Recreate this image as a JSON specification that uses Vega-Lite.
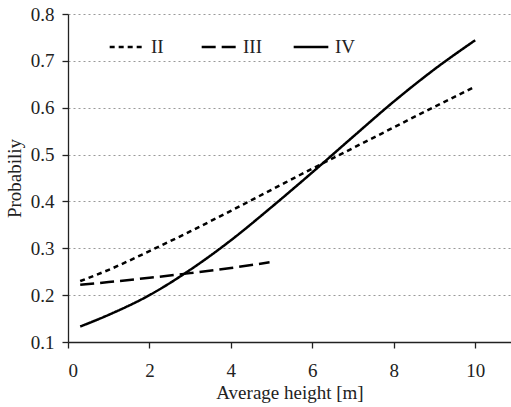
{
  "$schema": "https://vega.github.io/schema/vega-lite/v6.json",
  "width": 443,
  "height": 328,
  "autosize": {"type": "none"},
  "padding": {"left": 68, "top": 14, "right": 0, "bottom": 65},
  "background": "white",
  "config": {
    "font": "Liberation Serif",
    "view": {"stroke": null},
    "axis": {
      "labelFont": "Liberation Serif",
      "titleFont": "Liberation Serif",
      "labelFontSize": 19,
      "titleFontSize": 19,
      "labelColor": "#222",
      "titleColor": "#222",
      "titleFontWeight": "normal",
      "domainColor": "#222",
      "tickColor": "#222",
      "domainWidth": 1.3,
      "tickWidth": 1.3,
      "tickSize": 6
    },
    "legend": {
      "labelFont": "Liberation Serif",
      "labelFontSize": 19,
      "labelColor": "#222"
    }
  },
  "data": {
    "values": [
      {"h": 0.3, "p": 0.230, "s": "II"},
      {"h": 1, "p": 0.254, "s": "II"},
      {"h": 2, "p": 0.294, "s": "II"},
      {"h": 3, "p": 0.336, "s": "II"},
      {"h": 4, "p": 0.380, "s": "II"},
      {"h": 5, "p": 0.425, "s": "II"},
      {"h": 6, "p": 0.470, "s": "II"},
      {"h": 7, "p": 0.514, "s": "II"},
      {"h": 8, "p": 0.558, "s": "II"},
      {"h": 9, "p": 0.602, "s": "II"},
      {"h": 10, "p": 0.645, "s": "II"},
      {"h": 0.3, "p": 0.222, "s": "III"},
      {"h": 1, "p": 0.228, "s": "III"},
      {"h": 2, "p": 0.237, "s": "III"},
      {"h": 3, "p": 0.247, "s": "III"},
      {"h": 4, "p": 0.258, "s": "III"},
      {"h": 4.95, "p": 0.270, "s": "III"},
      {"h": 0.3, "p": 0.133, "s": "IV"},
      {"h": 1, "p": 0.158, "s": "IV"},
      {"h": 2, "p": 0.200, "s": "IV"},
      {"h": 3, "p": 0.254, "s": "IV"},
      {"h": 4, "p": 0.317, "s": "IV"},
      {"h": 5, "p": 0.388, "s": "IV"},
      {"h": 6, "p": 0.462, "s": "IV"},
      {"h": 7, "p": 0.538, "s": "IV"},
      {"h": 8, "p": 0.613, "s": "IV"},
      {"h": 9, "p": 0.682, "s": "IV"},
      {"h": 10, "p": 0.744, "s": "IV"}
    ]
  },
  "mark": {"type": "line", "color": "black", "strokeWidth": 2.5, "interpolate": "monotone", "clip": true},
  "encoding": {
    "x": {
      "field": "h",
      "type": "quantitative",
      "scale": {"domain": [0, 10.88], "nice": false},
      "axis": {"values": [0, 2, 4, 6, 8, 10], "grid": false, "title": "Average height [m]", "labelPadding": 13, "titlePadding": 3}
    },
    "y": {
      "field": "p",
      "type": "quantitative",
      "scale": {"domain": [0.1, 0.8], "nice": false, "zero": false},
      "axis": {
        "values": [0.1, 0.2, 0.3, 0.4, 0.5, 0.6, 0.7, 0.8],
        "format": ".1f",
        "title": "Probabiliy",
        "labelPadding": 8,
        "titlePadding": 6,
        "grid": true,
        "gridColor": "#999",
        "gridDash": [2, 3],
        "gridWidth": 1
      }
    },
    "strokeDash": {
      "field": "s",
      "type": "nominal",
      "scale": {"domain": ["II", "III", "IV"], "range": [[5, 4], [14, 6], [1, 0]]},
      "legend": {
        "title": null,
        "orient": "none",
        "direction": "horizontal",
        "legendX": 40,
        "legendY": 14,
        "symbolType": "stroke",
        "symbolSize": 1200,
        "symbolStrokeWidth": 2.5,
        "symbolStrokeColor": "black",
        "labelOffset": 5,
        "columnPadding": 24,
        "gridAlign": "all"
      }
    }
  }
}
